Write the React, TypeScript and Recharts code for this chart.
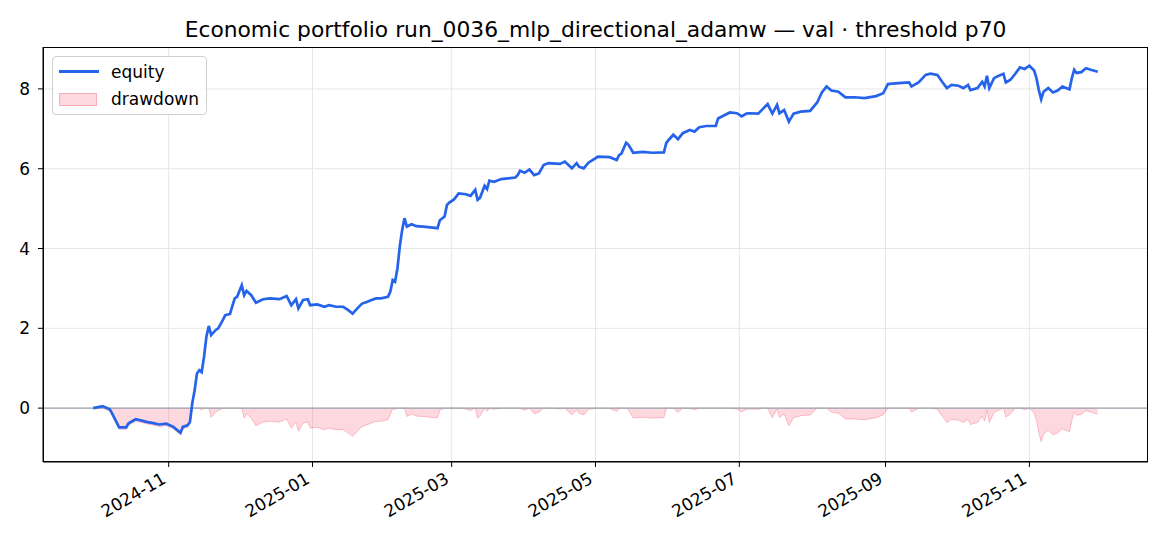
import React from 'react';
import {
  ComposedChart, Line, Area, XAxis, YAxis, CartesianGrid, ReferenceLine, Legend,
} from 'recharts';

const TITLE = 'Economic portfolio run_0036_mlp_directional_adamw — val · threshold p70';

const dates = [
  '2024-09-30', '2024-10-04', '2024-10-07', '2024-10-08', '2024-10-11', '2024-10-14', '2024-10-15',
  '2024-10-18', '2024-10-21', '2024-10-23', '2024-10-25', '2024-10-28', '2024-10-31', '2024-11-03',
  '2024-11-06', '2024-11-07', '2024-11-09', '2024-11-10', '2024-11-11', '2024-11-12', '2024-11-13',
  '2024-11-14', '2024-11-15', '2024-11-16', '2024-11-17', '2024-11-18', '2024-11-19', '2024-11-21',
  '2024-11-22', '2024-11-24', '2024-11-25', '2024-11-27', '2024-11-29', '2024-11-30', '2024-12-02',
  '2024-12-03', '2024-12-04', '2024-12-06', '2024-12-08', '2024-12-11', '2024-12-14', '2024-12-18',
  '2024-12-21', '2024-12-23', '2024-12-25', '2024-12-26', '2024-12-28', '2024-12-30', '2024-12-31',
  '2025-01-03', '2025-01-06', '2025-01-08', '2025-01-11', '2025-01-14', '2025-01-16', '2025-01-18',
  '2025-01-20', '2025-01-22', '2025-01-24', '2025-01-26', '2025-01-28', '2025-01-30', '2025-02-02',
  '2025-02-03', '2025-02-04', '2025-02-05', '2025-02-06', '2025-02-07', '2025-02-08', '2025-02-09',
  '2025-02-10', '2025-02-12', '2025-02-14', '2025-02-17', '2025-02-20', '2025-02-23', '2025-02-24',
  '2025-02-26', '2025-02-27', '2025-02-28', '2025-03-02', '2025-03-04', '2025-03-07', '2025-03-09',
  '2025-03-11', '2025-03-12', '2025-03-13', '2025-03-15', '2025-03-16', '2025-03-17', '2025-03-19',
  '2025-03-22', '2025-03-25', '2025-03-28', '2025-03-29', '2025-03-30', '2025-04-01', '2025-04-03',
  '2025-04-05', '2025-04-07', '2025-04-09', '2025-04-11', '2025-04-16', '2025-04-18', '2025-04-21',
  '2025-04-23', '2025-04-24', '2025-04-26', '2025-04-28', '2025-05-02', '2025-05-07', '2025-05-10',
  '2025-05-11', '2025-05-12', '2025-05-14', '2025-05-15', '2025-05-17', '2025-05-21', '2025-05-25',
  '2025-05-30', '2025-05-31', '2025-06-01', '2025-06-03', '2025-06-05', '2025-06-07', '2025-06-10',
  '2025-06-12', '2025-06-14', '2025-06-17', '2025-06-21', '2025-06-22', '2025-06-24', '2025-06-27',
  '2025-06-30', '2025-07-02', '2025-07-04', '2025-07-05', '2025-07-09', '2025-07-11', '2025-07-13',
  '2025-07-15', '2025-07-17', '2025-07-18', '2025-07-20', '2025-07-22', '2025-07-24', '2025-07-27',
  '2025-07-31', '2025-08-03', '2025-08-05', '2025-08-07', '2025-08-09', '2025-08-12', '2025-08-15',
  '2025-08-19', '2025-08-23', '2025-08-28', '2025-08-31', '2025-09-02', '2025-09-05', '2025-09-11',
  '2025-09-12', '2025-09-15', '2025-09-18', '2025-09-20', '2025-09-23', '2025-09-25', '2025-09-27',
  '2025-09-29', '2025-10-02', '2025-10-04', '2025-10-06', '2025-10-07', '2025-10-10', '2025-10-12',
  '2025-10-13', '2025-10-14', '2025-10-15', '2025-10-17', '2025-10-19', '2025-10-21', '2025-10-22',
  '2025-10-24', '2025-10-26', '2025-10-28', '2025-10-30', '2025-11-01', '2025-11-03', '2025-11-04',
  '2025-11-05', '2025-11-06', '2025-11-07', '2025-11-09', '2025-11-11', '2025-11-13', '2025-11-15',
  '2025-11-18', '2025-11-19', '2025-11-20', '2025-11-21', '2025-11-23', '2025-11-25', '2025-11-27',
  '2025-11-30',
];

const equity = [
  0.00, 0.05, -0.03, -0.13, -0.48, -0.48, -0.38,
  -0.28, -0.32, -0.35, -0.37, -0.41, -0.39, -0.47,
  -0.62, -0.47, -0.43, -0.35, 0.12, 0.45, 0.87,
  0.95, 0.90, 1.29, 1.79, 2.06, 1.83, 1.96,
  2.00, 2.21, 2.33, 2.36, 2.75, 2.79, 3.08,
  2.83, 2.94, 2.83, 2.64, 2.73, 2.75, 2.73,
  2.81, 2.58, 2.73, 2.50, 2.71, 2.73, 2.58,
  2.60, 2.54, 2.58, 2.54, 2.54, 2.46, 2.37,
  2.50, 2.62, 2.66, 2.71, 2.75, 2.75, 2.79,
  2.92, 3.21, 3.17, 3.50, 4.05, 4.46, 4.76,
  4.55, 4.61, 4.56, 4.55, 4.53, 4.51, 4.71,
  4.80, 5.09, 5.15, 5.23, 5.38, 5.36, 5.32,
  5.47, 5.22, 5.27, 5.57, 5.49, 5.70, 5.67,
  5.74, 5.76, 5.78, 5.84, 5.95, 5.90, 5.98,
  5.84, 5.88, 6.09, 6.14, 6.12, 6.18, 6.01,
  6.14, 6.05, 6.01, 6.15, 6.30, 6.29, 6.22,
  6.34, 6.38, 6.65, 6.60, 6.40, 6.42, 6.40,
  6.41, 6.64, 6.72, 6.85, 6.74, 6.89, 6.97,
  6.93, 7.04, 7.07, 7.07, 7.26, 7.32, 7.41,
  7.39, 7.31, 7.38, 7.39, 7.38, 7.50, 7.62,
  7.38, 7.60, 7.39, 7.47, 7.18, 7.38, 7.43,
  7.45, 7.66, 7.91, 8.06, 7.96, 7.93, 7.79,
  7.79, 7.77, 7.82, 7.89, 8.12, 8.14, 8.16,
  8.06, 8.16, 8.35, 8.38, 8.35, 8.18, 8.02,
  8.10, 8.08, 8.02, 8.10, 7.97, 8.02, 8.18,
  8.06, 8.33, 8.02, 8.27, 8.33, 8.38, 8.16,
  8.23, 8.38, 8.54, 8.50, 8.58, 8.46, 8.27,
  7.97, 7.74, 7.93, 8.02, 7.91, 7.96, 8.06,
  7.99, 8.27, 8.48, 8.40, 8.42, 8.52, 8.48,
  8.43,
];

const monthTicks = ['2024-11-01', '2025-01-01', '2025-03-01', '2025-05-01', '2025-07-01', '2025-09-01', '2025-11-01'];
const yTicks = [0, 2, 4, 6, 8];

const toTs = (d: string) => Date.parse(d + 'T00:00:00Z');

let peak = -Infinity;
const data = dates.map((d, i) => {
  peak = Math.max(peak, equity[i]);
  return { t: toTs(d), equity: equity[i], drawdown: equity[i] - peak };
});

const tMin = data[0].t;
const tMax = data[data.length - 1].t;
const pad = (tMax - tMin) * 0.05;

const FONT = '"DejaVu Sans", sans-serif';

const fmtMonth = (ts: number) => {
  const d = new Date(ts);
  return `${d.getUTCFullYear()}-${String(d.getUTCMonth() + 1).padStart(2, '0')}`;
};

const XTick = (props: any) => {
  const { x, y, payload } = props;
  const px = x - 8;
  const py = y + 4;
  return (
    <text x={px} y={py} dy="0.76em" textAnchor="end" transform={`rotate(-30 ${px} ${py})`}
      fontSize={17} fontFamily={FONT} fill="#000">
      {fmtMonth(payload.value)}
    </text>
  );
};

const LegendBox = () => (
  <div style={{
    position: 'absolute', left: 52, top: 56, width: 155, height: 59, boxSizing: 'border-box',
    border: '1px solid #d0d0d0', borderRadius: 4, background: 'rgba(255,255,255,0.85)',
    fontFamily: FONT, fontSize: 17, color: '#000',
  }}>
    <div style={{ position: 'absolute', left: 6, top: 13, width: 40, height: 3, background: '#2563eb' }} />
    <div style={{ position: 'absolute', left: 58, top: 2, lineHeight: '26px' }}>equity</div>
    <div style={{
      position: 'absolute', left: 6, top: 36, width: 38, height: 13, boxSizing: 'border-box',
      background: 'rgba(244,63,94,0.2)', border: '1px solid rgba(244,63,94,0.3)',
    }} />
    <div style={{ position: 'absolute', left: 58, top: 29, lineHeight: '26px' }}>drawdown</div>
  </div>
);

export default function App() {
  return (
    <div style={{ position: 'absolute', left: 0, top: 0, width: 1170, height: 546, background: '#fff' }}>
      <div style={{
        position: 'absolute', left: 43, width: 1105, top: 16, textAlign: 'center',
        fontFamily: FONT, fontSize: 21.8, color: '#000', lineHeight: '28px',
      }}>
        {TITLE}
      </div>
      <ComposedChart width={1170} height={546} data={data}
        margin={{ top: 47, right: 22, bottom: 24, left: 3 }}>
        <CartesianGrid stroke="#e6e6e6" strokeWidth={1}
          horizontalValues={yTicks} verticalValues={monthTicks.map(toTs)} />
        <XAxis dataKey="t" type="number" scale="time" domain={[tMin - pad, tMax + pad]}
          ticks={monthTicks.map(toTs)} tick={<XTick />} interval={0} height={60}
          tickSize={5} tickMargin={0} axisLine={{ stroke: '#000' }} tickLine={{ stroke: '#000' }}
          allowDataOverflow />
        <YAxis type="number" domain={[-1.35, 9.05]} ticks={yTicks} width={40} tickSize={5}
          tickMargin={8} axisLine={{ stroke: '#000' }} tickLine={{ stroke: '#000' }}
          tick={{ fontSize: 17, fontFamily: FONT, fill: '#000' }} allowDataOverflow />
        <Area type="linear" dataKey="drawdown" baseValue={0} fill="#f43f5e" fillOpacity={0.2}
          stroke="#f43f5e" strokeOpacity={0.3} strokeWidth={1} isAnimationActive={false} dot={false}
          activeDot={false} />
        <ReferenceLine y={0} stroke="#9aa3b0" strokeWidth={1.2} />
        <Line type="linear" dataKey="equity" stroke="#2563eb" strokeWidth={2.7} dot={false}
          activeDot={false} isAnimationActive={false} />
        <Legend content={<LegendBox />} wrapperStyle={{ position: 'absolute', left: 0, top: 0 }} />
      </ComposedChart>
      <div style={{
        position: 'absolute', left: 43, top: 47, width: 1105, height: 415, boxSizing: 'border-box',
        border: '1px solid #000', pointerEvents: 'none',
      }} />
    </div>
  );
}
